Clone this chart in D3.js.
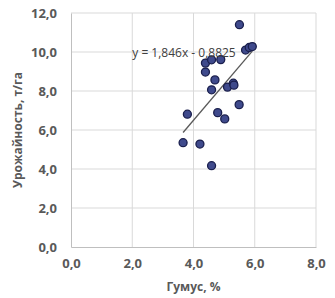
<!DOCTYPE html>
<html>
<head>
<meta charset="utf-8">
<script src="https://cdn.jsdelivr.net/npm/d3@7"></script>
<style>
  body { margin: 0; background: #fff; }
  text { font-family: "Open Sans", "Liberation Sans", sans-serif; }
</style>
</head>
<body>
<svg id="chart" width="335" height="298"></svg>
<script>
// humus content, % (x) and yield, t/ha (y)
const humus = [5.5, 5.7, 5.82, 5.92, 4.39, 4.59, 4.89, 4.39, 4.7, 4.59, 5.11,
  5.3, 5.32, 5.49, 3.8, 4.79, 5.02, 3.66, 4.21, 4.59];
const yieldVals = [11.4, 10.1, 10.23, 10.28, 9.43, 9.6, 9.61, 8.97, 8.57, 8.06, 8.2,
  8.4, 8.3, 7.3, 6.81, 6.89, 6.57, 5.35, 5.28, 4.17];
const xTicks = [0, 2, 4, 6, 8];
const yTicks = [0, 2, 4, 6, 8, 10, 12];
const slope = 1.846, intercept = -0.8825;
const trendLabel = "y = 1,846x - 0,8825";

const svg = d3.select("#chart");
const margin = {left: 71, right: 19, top: 13, bottom: 51};
const W = 335, H = 298;

const x = d3.scaleLinear().domain([0, 8]).range([margin.left, W - margin.right]);
const y = d3.scaleLinear().domain([0, 12]).range([H - margin.bottom, margin.top]);
const fmt = d => d.toFixed(1).replace(".", ",");

//Grid
svg.append("g").selectAll("line").data(xTicks.slice(1))
  .join("line")
  .attr("x1", d => x(d)).attr("x2", d => x(d))
  .attr("y1", y(0)).attr("y2", y(12))
  .attr("stroke", "#d9d9d9").attr("stroke-width", 1);
svg.append("g").selectAll("line").data(yTicks.slice(1))
  .join("line")
  .attr("x1", x(0)).attr("x2", x(8))
  .attr("y1", d => y(d)).attr("y2", d => y(d))
  .attr("stroke", "#d9d9d9").attr("stroke-width", 1);

//Axes
const xAxis = svg.append("g")
  .attr("transform", `translate(0,${y(0)})`)
  .call(d3.axisBottom(x).tickValues(xTicks).tickFormat(fmt).tickSize(0).tickPadding(12));
const yAxis = svg.append("g")
  .attr("transform", `translate(${x(0)},0)`)
  .call(d3.axisLeft(y).tickValues(yTicks).tickFormat(fmt).tickSize(0).tickPadding(14));
[xAxis, yAxis].forEach(a => {
  a.select(".domain").attr("stroke", "#bfbfbf");
  a.selectAll("text")
    .attr("fill", "#595959")
    .style("font-size", "13px")
    .style("font-weight", "bold")
    .style("font-family", "'Open Sans', sans-serif");
});

//Axis titles
svg.append("text")
  .attr("x", x(4)).attr("y", 291)
  .attr("text-anchor", "middle")
  .attr("fill", "#595959")
  .style("font-size", "12px").style("font-weight", "bold")
  .text("Гумус, %");
svg.append("text")
  .attr("transform", `translate(22,${y(6)}) rotate(-90)`)
  .attr("text-anchor", "middle")
  .attr("fill", "#595959")
  .style("font-size", "12px").style("font-weight", "bold")
  .text("Урожайность, т/га");

//Trend line, from the smallest to the largest x
const [xMin, xMax] = d3.extent(humus);
svg.append("line")
  .attr("x1", x(xMin)).attr("y1", y(slope * xMin + intercept))
  .attr("x2", x(xMax)).attr("y2", y(slope * xMax + intercept))
  .attr("stroke", "#595959").attr("stroke-width", 1.3);

//Points
svg.append("g").selectAll("circle").data(humus)
  .join("circle")
  .attr("cx", d => x(d))
  .attr("cy", (d, i) => y(yieldVals[i]))
  .attr("r", 4)
  .attr("fill", "#3f4a8c")
  .attr("stroke", "#1a1f4d")
  .attr("stroke-width", 1.3);

//Equation label
svg.append("text")
  .attr("x", 184).attr("y", y(10) + 5)
  .attr("text-anchor", "middle")
  .attr("fill", "#404040")
  .style("font-size", "12px")
  .text(trendLabel);
</script>
</body>
</html>
